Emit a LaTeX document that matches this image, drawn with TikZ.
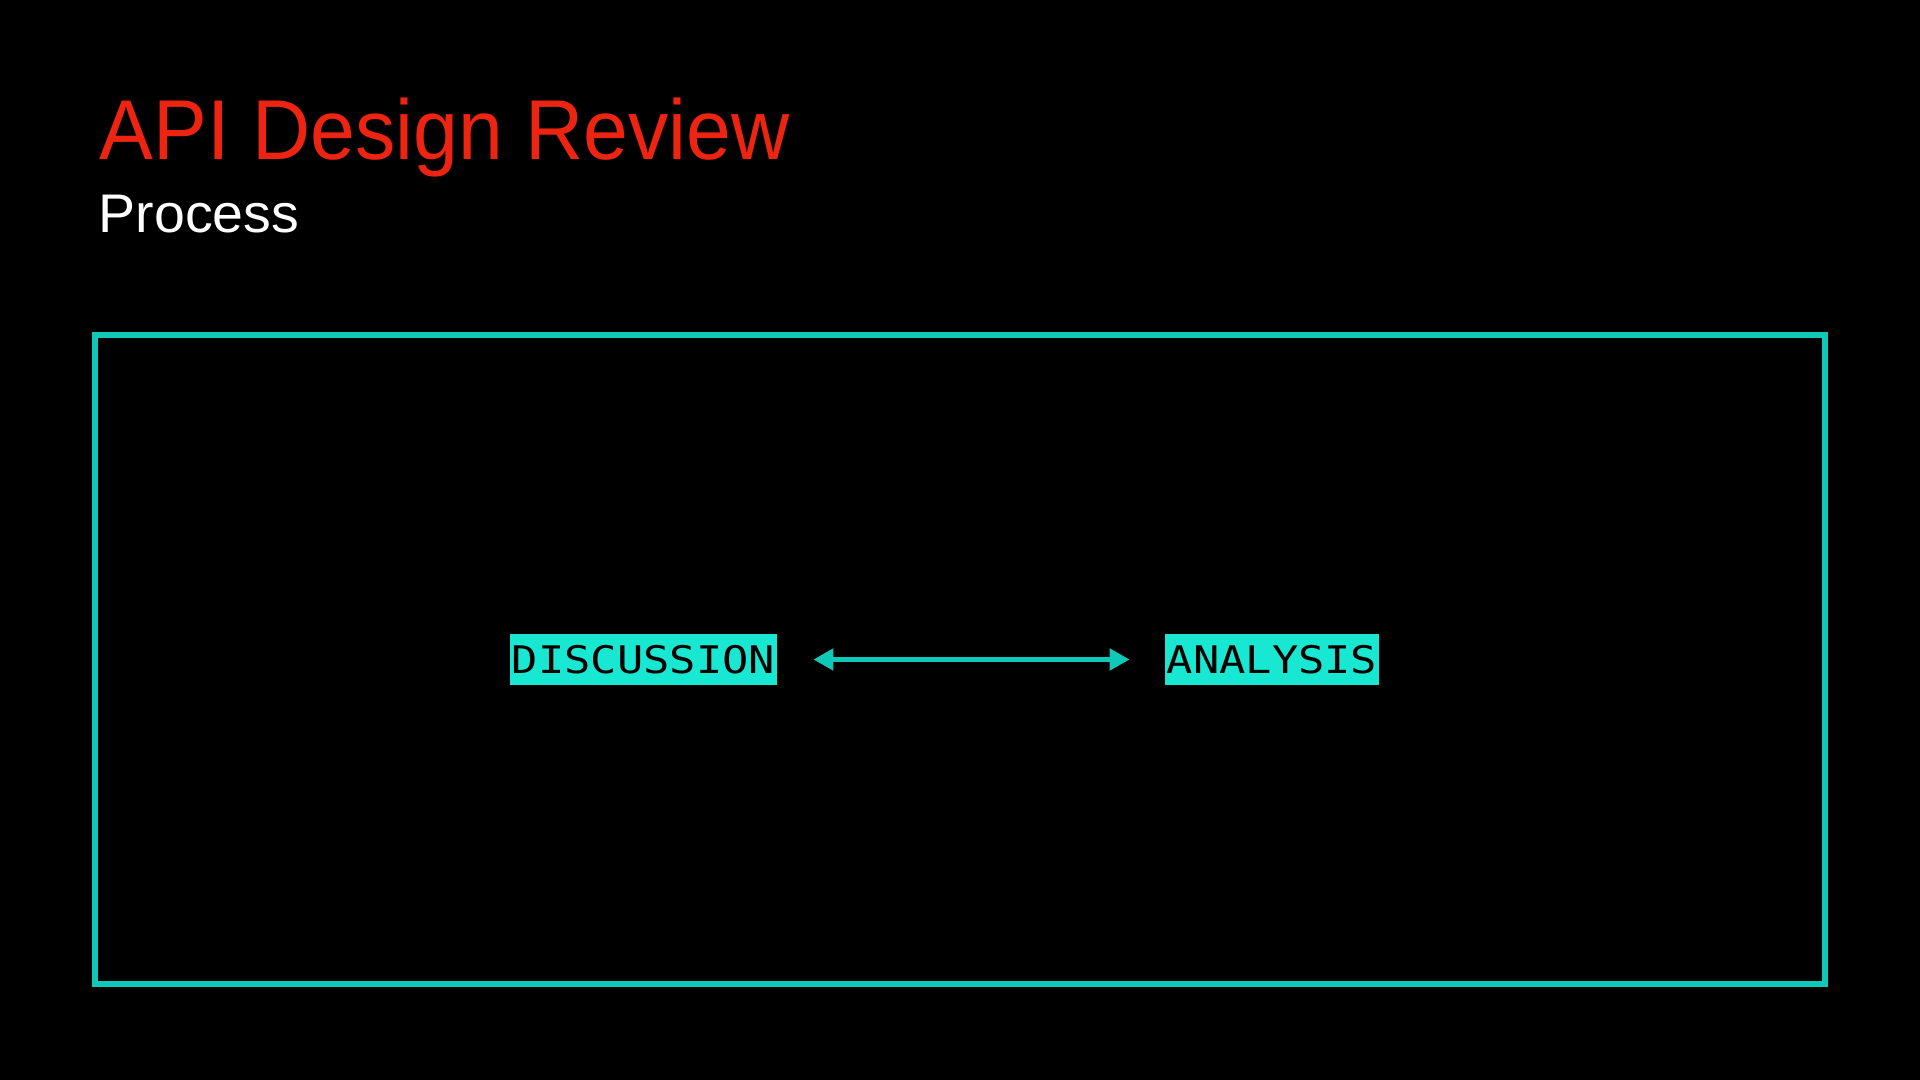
\documentclass[tikz,border=0pt]{standalone}
\usepackage{fontspec}
\usetikzlibrary{arrows.meta}
\setmainfont{Liberation Sans}
\newfontfamily\titlefont[FakeStretch=0.948]{Liberation Sans}
\newfontfamily\subfont[FakeStretch=1.02]{Liberation Sans}
\newfontfamily\labelmono[FakeStretch=1.15]{DejaVu Sans Mono}
\definecolor{titlered}{RGB}{238,36,18}
\definecolor{frameteal}{RGB}{16,200,184}
\definecolor{labelfill}{RGB}{24,232,210}
\tikzset{
  px/.style={x=0.5pt,y=-0.5pt},
  labelbox/.style={fill=labelfill, inner sep=0pt, minimum height=25.5pt, text=black,
    font=\labelmono\fontsize{19}{19}\selectfont},
  conn/.style={draw=frameteal, line width=2.5pt,
    {Triangle[length=10pt,width=10.5pt]}-{Triangle[length=10pt,width=10.5pt]}},
}
\begin{document}
\begin{tikzpicture}[px]
\fill[black] (0,0) rectangle (1920,1080);
\useasboundingbox (0,0) rectangle (1920,1080);
\node[anchor=base west, inner sep=0pt, text=titlered, font=\titlefont\fontsize{42.5}{42.5}\selectfont] (title) at (99.5,160) {API Design Review};
\node[anchor=base west, inner sep=0pt, text=white, font=\subfont\fontsize{27.2}{27.2}\selectfont] (sub) at (98.5,233) {Process};
\draw[frameteal, line width=3pt] (95,335) rectangle (1825,984);
\node[labelbox, minimum width=133.5pt] (disc) at (643.5,659.5) {DISCUSSION};
\node[labelbox, minimum width=107pt] (ana) at (1272,659.5) {ANALYSIS};
\draw[conn, shorten <=18pt, shorten >=17.5pt] (disc.east) -- (ana.west);
\end{tikzpicture}
\end{document}
